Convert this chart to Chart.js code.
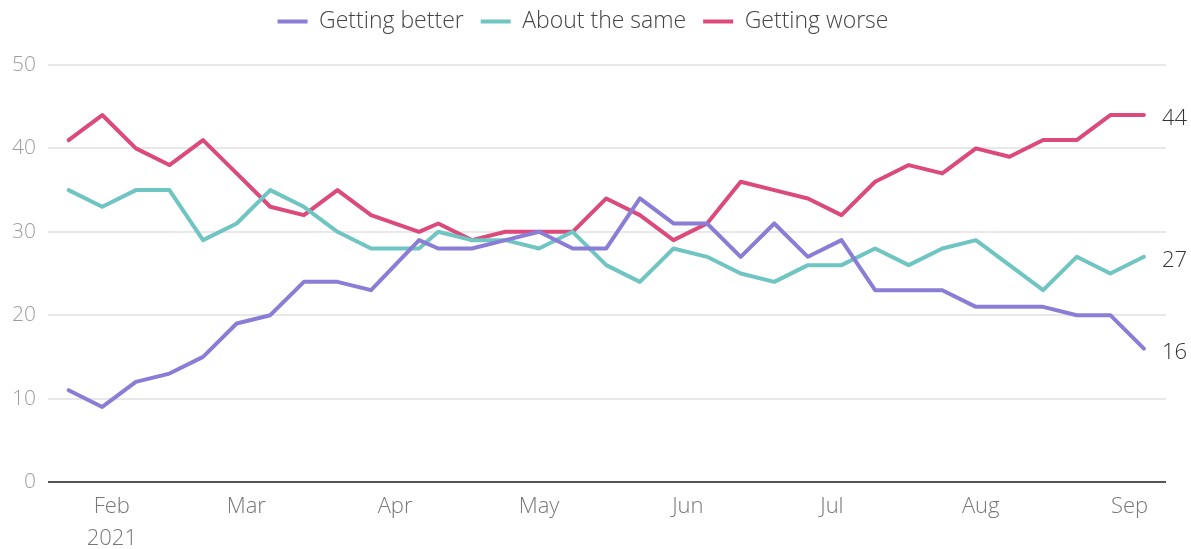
<!DOCTYPE html>
<html>
<head>
<meta charset="utf-8">
<script src="https://cdn.jsdelivr.net/npm/chart.js@4.4.1/dist/chart.umd.min.js"></script>
<style>
  html, body { margin: 0; padding: 0; background: #ffffff; }
  #wrap { width: 1191px; height: 549px; position: relative; }
</style>
</head>
<body>
<div id="wrap"><canvas id="c"></canvas></div>
<script>
// ---- data ----
const surveyDates = [
  '2021-01-23','2021-01-30','2021-02-06','2021-02-13','2021-02-20','2021-02-27',
  '2021-03-06','2021-03-13','2021-03-20','2021-03-27','2021-04-06','2021-04-10',
  '2021-04-17','2021-04-24','2021-05-01','2021-05-08','2021-05-15','2021-05-22',
  '2021-05-29','2021-06-05','2021-06-12','2021-06-19','2021-06-26','2021-07-03',
  '2021-07-10','2021-07-17','2021-07-24','2021-07-31','2021-08-07','2021-08-14',
  '2021-08-21','2021-08-28','2021-09-04'
];
const gettingBetter = [11, 9,12,13,15,19,20,24,24,23,29,28,28,29,30,28,28,34,31,31,27,31,27,29,23,23,23,21,21,21,20,20,16];
const aboutTheSame  = [35,33,35,35,29,31,35,33,30,28,28,30,29,29,28,30,26,24,28,27,25,24,26,26,28,26,28,29,26,23,27,25,27];
const gettingWorse  = [41,44,40,38,41,37,33,32,35,32,30,31,29,30,30,30,34,32,29,31,36,35,34,32,36,38,37,40,39,41,41,44,44];
const seriesNames   = ['Getting better','About the same','Getting worse'];
const monthTickDates  = ['2021-02-01','2021-03-01','2021-04-01','2021-05-01','2021-06-01','2021-07-01','2021-08-01','2021-09-01'];
const monthTickLabels = [['Feb','2021'],'Mar','Apr','May','Jun','Jul','Aug','Sep'];
const yTickValues = [0,10,20,30,40,50];

// ---- helpers ----
const BASE = Date.UTC(2021,0,1);
function dayOf(s){ const p = s.split('-').map(Number); return (Date.UTC(p[0],p[1]-1,p[2]) - BASE)/86400000; }
const xs = surveyDates.map(dayOf);
const monthDays = monthTickDates.map(dayOf);
function pts(arr){ return arr.map((v,i)=>({x: xs[i], y: v})); }

const colors = ['#8a7dd6','#6fc5c1','#dc4a7b'];
const FONT = "'Open Sans', Lato, sans-serif";
const LW = 4;

const endLabels = {
  id: 'endLabels',
  afterDatasetsDraw(chart){
    const ctx = chart.ctx;
    ctx.save();
    ctx.font = "300 22px " + FONT;
    ctx.fillStyle = '#333';
    ctx.textAlign = 'left';
    ctx.textBaseline = 'middle';
    chart.data.datasets.forEach((ds, i) => {
      const meta = chart.getDatasetMeta(i);
      const last = meta.data[meta.data.length-1];
      ctx.fillText(String(ds.data[ds.data.length-1].y), last.x + 18, last.y + 4);
    });
    ctx.restore();
  }
};

// add extra room below the legend so the plot starts lower
const legendSpace = {
  id: 'legendSpace',
  afterInit(chart){
    const lg = chart.legend;
    if (!lg) return;
    const orig = lg.fit.bind(lg);
    lg.fit = function(){ orig(); this.height += 22; };
  }
};

new Chart(document.getElementById('c'), {
  type: 'line',
  data: {
    datasets: [
      { label: seriesNames[0], data: pts(gettingBetter), borderColor: colors[0], backgroundColor: colors[0], borderWidth: LW },
      { label: seriesNames[1], data: pts(aboutTheSame),  borderColor: colors[1], backgroundColor: colors[1], borderWidth: LW },
      { label: seriesNames[2], data: pts(gettingWorse),  borderColor: colors[2], backgroundColor: colors[2], borderWidth: LW }
    ]
  },
  options: {
    responsive: true,
    maintainAspectRatio: false,
    animation: false,
    layout: { padding: { left: 0, right: 25, top: -7, bottom: 0 } },
    elements: {
      line: { tension: 0, borderCapStyle: 'round', borderJoinStyle: 'round' },
      point: { radius: 0, hoverRadius: 0 }
    },
    plugins: {
      legend: {
        position: 'top',
        align: 'center',
        labels: {
          usePointStyle: true,
          pointStyle: 'line',
          pointStyleWidth: 30,
          color: '#444',
          padding: 17,
          font: { family: FONT, size: 23, weight: '300' }
        }
      },
      tooltip: { enabled: false }
    },
    scales: {
      x: {
        type: 'linear',
        min: 17.7,
        max: 250.6,
        grid: { display: false, drawTicks: false },
        border: { display: false },
        afterBuildTicks(scale){ scale.ticks = monthDays.map(v => ({ value: v })); },
        afterFit(scale){ scale.height = 67; },
        ticks: {
          autoSkip: false,
          maxRotation: 0,
          padding: 9,
          color: '#777',
          font: { family: FONT, size: 22, weight: '300', lineHeight: 1.45 },
          callback(value, index){ return monthTickLabels[index]; }
        }
      },
      y: {
        min: 0,
        max: 50,
        afterBuildTicks(scale){ scale.ticks = yTickValues.map(v => ({ value: v })); },
        afterFit(scale){ scale.width = 48; },
        grid: {
          drawTicks: false,
          color: c => c.tick && c.tick.value === 0 ? '#555' : '#e8e8e8',
          lineWidth: 2
        },
        border: { display: false },
        ticks: {
          padding: 12,
          color: '#9e9e9e',
          font: { family: FONT, size: 21, weight: '300' }
        }
      }
    }
  },
  plugins: [endLabels, legendSpace]
});
</script>
</body>
</html>
